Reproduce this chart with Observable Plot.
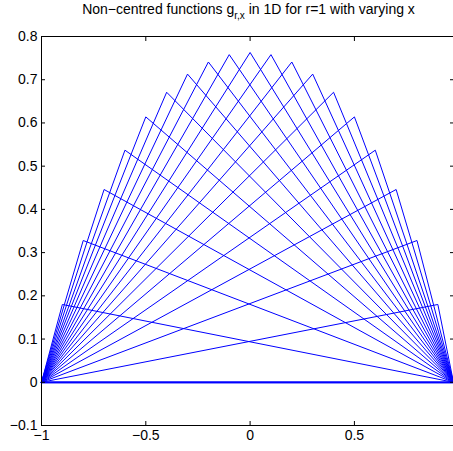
<!DOCTYPE html>
<html><head><meta charset="utf-8">
<script src="https://cdn.jsdelivr.net/npm/d3@7"></script>
<script src="https://cdn.jsdelivr.net/npm/@observablehq/plot@0.6"></script>
<style>
html,body{margin:0;padding:0;overflow:hidden;background:#fff;width:453px;height:451px;}
#wrap{position:relative;width:455px;height:451px;}
#title{position:absolute;left:0;width:497px;top:2px;text-align:center;font:14px "Liberation Sans",Arial,sans-serif;color:#000;line-height:15px;white-space:nowrap;z-index:2;}
#title sub{font-size:10px;vertical-align:-5px;line-height:0;}
#chart{position:absolute;left:0;top:0;}
</style></head><body>
<div id="wrap"><div id="title">Non−centred functions g<sub>r,x</sub> in 1D for r=1 with varying x</div><div id="chart"></div></div>
<script>
// support of each function
const xStart = -1;
const xEnd = 0.975;
// peak positions and heights
const peakX = [-1, -0.9, -0.8, -0.7, -0.6, -0.5, -0.4, -0.3, -0.2, -0.1, 0, 0.1, 0.2, 0.3, 0.4, 0.5, 0.6, 0.7, 0.8, 0.9, 0.975];
const peakY = [0, 0.180, 0.328, 0.446, 0.537, 0.614, 0.671, 0.713, 0.741, 0.758, 0.763, 0.758, 0.741, 0.713, 0.671, 0.614, 0.537, 0.446, 0.328, 0.180, 0];
const xTicks = [-1, -0.5, 0, 0.5];
const yTicks = [-0.1, 0, 0.1, 0.2, 0.3, 0.4, 0.5, 0.6, 0.7, 0.8];

const rows = [];
peakX.forEach((p, i) => {
  rows.push({k: i, x: xStart, y: 0, flat: peakY[i] === 0},
            {k: i, x: p, y: peakY[i], flat: peakY[i] === 0},
            {k: i, x: xEnd, y: 0, flat: peakY[i] === 0});
});
const fmt = d3.format("");
const font = "'Liberation Sans', Arial, sans-serif";

const chart = Plot.plot({
  width: 455, height: 451,
  marginLeft: 41, marginRight: 2, marginTop: 36, marginBottom: 26,
  x: {domain: [xStart, xEnd], label: null},
  y: {domain: [-0.1, 0.8], label: null},
  style: {fontFamily: font, fontSize: "14px", background: "white", color: "black"},
  marks: [
    Plot.line(rows, {x: "x", y: "y", z: "k", stroke: "#0000ff", strokeWidth: d => d.flat ? 1.8 : 1}),
    Plot.frame({stroke: "black"}),
    Plot.axisX(xTicks, {anchor: "bottom", tickSize: -4, fill: "none", label: null}),
    Plot.axisX(xTicks, {anchor: "top", tickSize: -4, fill: "none", label: null}),
    Plot.axisY(yTicks, {anchor: "left", tickSize: -4, fill: "none", label: null}),
    Plot.axisY(yTicks, {anchor: "right", tickSize: -4, fill: "none", label: null}),
    Plot.axisX(xTicks, {anchor: "bottom", tickSize: 0, tickPadding: 5, tickFormat: fmt, fontSize: 14, label: null}),
    Plot.axisY(yTicks, {anchor: "left", tickSize: 0, tickPadding: 4, tickFormat: fmt, fontSize: 14, label: null})
  ]
});
document.getElementById("chart").appendChild(chart);
</script>
</body></html>
